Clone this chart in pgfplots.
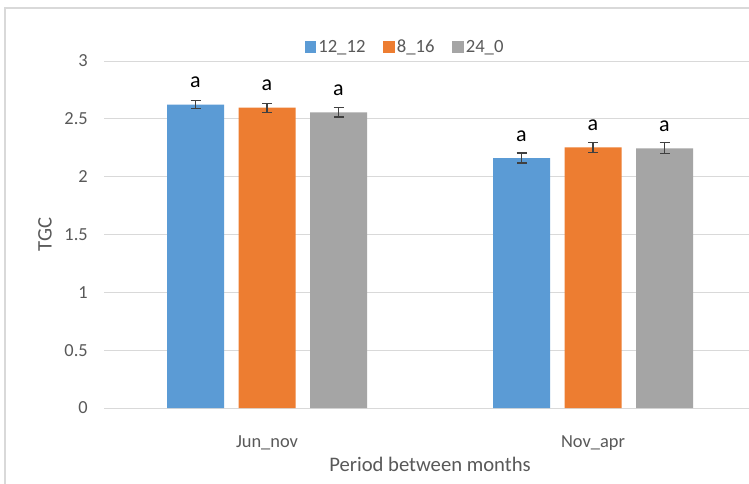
\documentclass[border=0pt]{standalone}
\usepackage{fontspec}
\setmainfont{Carlito}
\usepackage{pgfplots}
\usepackage{pgfplotstable}
\pgfplotsset{compat=1.18}

\definecolor{barblue}{HTML}{5B9BD5}
\definecolor{barorange}{HTML}{ED7D31}
\definecolor{bargrey}{HTML}{A5A5A5}
\definecolor{gridgrey}{HTML}{D9D9D9}
\definecolor{textgrey}{HTML}{595959}
\definecolor{errgrey}{HTML}{404040}

% mean TGC and its error per photoperiod; x: 0 = Jun_nov, 1 = Nov_apr
\pgfplotstableread{
x y err
0 2.622 0.035
1 2.161 0.043
}\tTwelve
\pgfplotstableread{
x y err
0 2.596 0.040
1 2.254 0.042
}\tEight
\pgfplotstableread{
x y err
0 2.556 0.040
1 2.245 0.047
}\tTwentyFour

\pgfplotsset{
  sqlegend/.style={legend image code/.code={\fill[##1] (0pt,-4.25pt) rectangle (8.5pt,4.25pt);}},
  errstyle/.style={
    error bars/y dir=both, error bars/y explicit,
    error bars/error bar style={draw=errgrey, line width=0.9pt},
    error bars/error mark options={rotate=90, draw=errgrey, mark size=3.75pt, line width=0.9pt}},
}

\begin{document}
\begin{tikzpicture}
\path[use as bounding box] (0,0) rectangle (561.75pt,362.25pt);
\clip (0,0) rectangle (561.75pt,362.25pt);
\fill[white] (0,0) rectangle (561.75pt,362.25pt);
% chart area frame
\draw[gridgrey, line width=1.1pt] (3.75pt,-5pt) -- (3.75pt,356.25pt) -- (580pt,356.25pt);
\begin{axis}[
  at={(78pt,56.25pt)}, anchor=south west,
  scale only axis, width=489pt, height=260.25pt,
  ybar=10.875pt, bar width=42.75pt,
  xmin=-0.5, xmax=1.5, ymin=0, ymax=3,
  enlargelimits=false, clip=false,
  xtick={0,1}, xticklabels={Jun\_nov, Nov\_apr},
  ytick={0,0.5,1,1.5,2,2.5,3},
  ymajorgrids, major grid style={gridgrey, line width=0.75pt},
  axis line style={draw=none}, tick style={draw=none},
  /pgf/number format/assume math mode=true,
  yticklabel style={font=\fontsize{13.8}{13.8}\selectfont, text=textgrey, anchor=east, inner sep=0pt, xshift=-12pt},
  xticklabel style={font=\fontsize{13.8}{13.8}\selectfont, text=textgrey, anchor=center, inner sep=0pt, yshift=-21.75pt},
  xlabel={Period between months},
  xlabel style={font=\fontsize{15.5}{15.5}\selectfont, text=textgrey, at={(axis description cs:0.5,0)}, anchor=center, yshift=-42pt},
  ylabel={TGC},
  ylabel style={font=\fontsize{15.5}{15.5}\selectfont, text=textgrey, at={(axis description cs:-0.0905,0.5)}, anchor=center},
  legend style={at={(0.462,1.04)}, anchor=center, draw=none, fill=none,
    legend columns=-1, font=\fontsize{14}{14}\selectfont, text=textgrey,
    nodes={inner sep=1.5pt},
    /tikz/every even column/.append style={column sep=12pt}},
  nodes near coords={a},
  every node near coord/.append style={font=\fontsize{16.5}{16.5}\selectfont, text=black, anchor=center, yshift=16.5pt},
]
\addplot[fill=barblue, draw=none, sqlegend, errstyle] table[x=x, y=y, y error=err] {\tTwelve};
\addplot[fill=barorange, draw=none, sqlegend, errstyle] table[x=x, y=y, y error=err] {\tEight};
\addplot[fill=bargrey, draw=none, sqlegend, errstyle] table[x=x, y=y, y error=err] {\tTwentyFour};
\legend{12\_12, 8\_16, 24\_0}
\end{axis}
\end{tikzpicture}
\end{document}
